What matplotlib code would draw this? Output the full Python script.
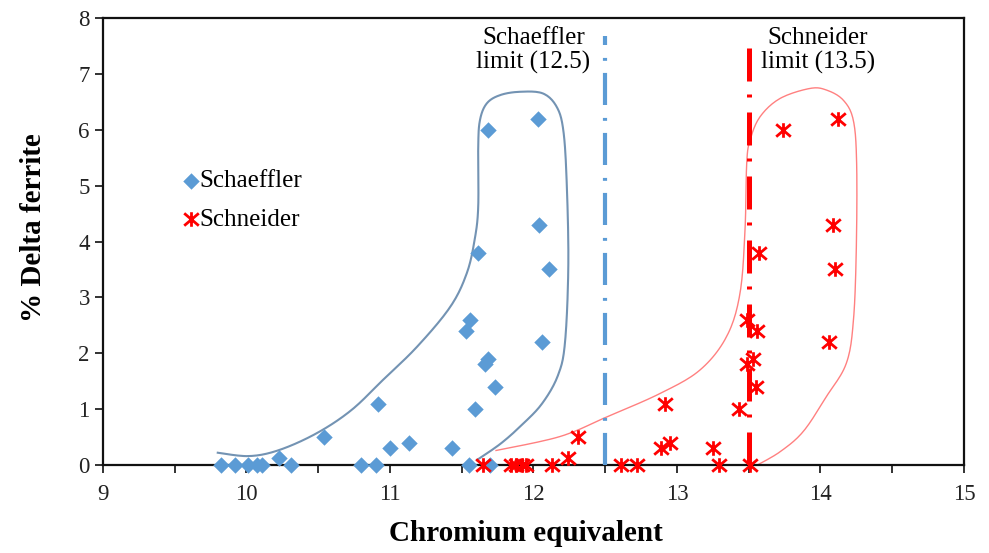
import numpy as np
import matplotlib
matplotlib.use('Agg')
import matplotlib.pyplot as plt
from matplotlib.path import Path
from matplotlib.ticker import MultipleLocator

#data
schaeffler_cr = [9.82, 9.92, 10.01, 10.07, 10.11, 10.31, 10.80, 10.90, 11.55, 11.70,
                 10.23, 10.54, 10.92, 11.00, 11.13, 11.43, 11.59, 11.73, 11.685, 11.66,
                 11.56, 11.53, 11.615, 11.68, 12.03, 12.04, 12.11, 12.06]
schaeffler_ferrite = [0, 0, 0, 0, 0, 0, 0, 0, 0, 0,
                      0.12, 0.5, 1.1, 0.3, 0.4, 0.3, 1.0, 1.4, 1.9, 1.8,
                      2.6, 2.4, 3.8, 6.0, 6.2, 4.3, 3.5, 2.2]
schneider_cr = [11.65, 11.84, 11.88, 11.92, 11.95, 12.13, 12.61, 12.72, 13.29, 13.51,
                12.24, 12.31, 12.92, 12.89, 12.95, 13.25, 13.43, 13.55, 13.53, 13.485,
                13.49, 13.555, 13.57, 13.74, 14.12, 14.09, 14.10, 14.06]
schneider_ferrite = schaeffler_ferrite

limit_labels = ['Schaeffler\nlimit (12.5)', 'Schneider\nlimit (13.5)']
limit_values = [12.5, 13.5]

#hand drawn envelopes round each group
blue_outline_x = [9.80, 10.02, 10.23, 10.49, 10.73, 10.95, 11.19, 11.42, 11.535, 11.59, 11.615,
                  11.615, 11.627, 11.674, 11.767, 11.906, 12.066, 12.162, 12.208, 12.231, 12.243,
                  12.22, 12.17, 12.06, 11.92, 11.77, 11.606]
blue_outline_y = [0.22, 0.16, 0.27, 0.57, 0.98, 1.52, 2.12, 2.83, 3.43, 4.03, 4.62,
                  5.69, 6.17, 6.47, 6.62, 6.68, 6.65, 6.41, 5.99, 5.10, 3.60,
                  2.20, 1.60, 1.10, 0.72, 0.38, 0.09]
red_outline_x = [11.739, 12.185, 12.51, 12.882, 13.16, 13.346, 13.439, 13.474, 13.486, 13.509,
                 13.578, 13.718, 13.927, 14.043, 14.159, 14.229, 14.252, 14.25, 14.23, 14.18,
                 14.04, 13.88, 13.72, 13.56]
red_outline_y = [0.26, 0.51, 0.86, 1.28, 1.70, 2.30, 3.07, 4.20, 5.40, 5.81,
                 6.23, 6.56, 6.74, 6.71, 6.53, 6.17, 5.40, 3.91, 2.60, 1.82,
                 1.22, 0.60, 0.24, 0.0]


def smooth(xs, ys, n=12):
  #catmull-rom through the outline points
  p = np.column_stack([xs, ys])
  p = np.vstack([p[0], p, p[-1]])
  out = []
  for i in range(1, len(p) - 2):
    p0, p1, p2, p3 = p[i-1], p[i], p[i+1], p[i+2]
    for t in np.linspace(0, 1, n, endpoint=False):
      t2, t3 = t*t, t*t*t
      out.append(0.5*((2*p1) + (-p0+p2)*t + (2*p0-5*p1+4*p2-p3)*t2 + (-p0+3*p1-3*p2+p3)*t3))
  out.append(p[-2])
  out = np.array(out)
  return out[:, 0], out[:, 1]


plt.rcParams['font.family'] = ['Liberation Serif', 'DejaVu Serif']

fig = plt.figure(figsize=(9.89, 5.53), dpi=100)
ax = fig.add_axes([0.1041, 0.1591, 0.8706, 0.8083])

blue = '#5B9BD5'
red = '#FF0000'

#envelopes
bx, by = smooth(blue_outline_x, blue_outline_y)
ax.plot(bx, by, color='#7393B3', lw=1.5, zorder=2)
rx, ry = smooth(red_outline_x, red_outline_y)
ax.plot(rx, ry, color='#FF8080', lw=1.0, zorder=2)

#limit lines
ax.plot([limit_values[0]]*2, [0, 7.67], color=blue, lw=3, dashes=(7.7, 2.9, 0.7, 3.1), zorder=3)
ax.plot([limit_values[1]]*2, [0, 7.67], color=red, lw=3.6, dashes=(6.6, 3.0, 0.6, 2.6), zorder=3)
ax.text(12.0, 7.42, limit_labels[0], ha='center', va='center', fontsize=18, linespacing=1.15)
ax.text(13.98, 7.42, limit_labels[1], ha='center', va='center', fontsize=18, linespacing=1.15)

#star marker: X with vertical bar
star = Path([(-1, -0.85), (1, 0.85), (-1, 0.85), (1, -0.85), (0, -1), (0, 1)],
            [Path.MOVETO, Path.LINETO, Path.MOVETO, Path.LINETO, Path.MOVETO, Path.LINETO])

ax.scatter(schaeffler_cr, schaeffler_ferrite, marker='D', s=70, color=blue, lw=0,
           label='Schaeffler', zorder=4, clip_on=False)
ax.scatter(schneider_cr, schneider_ferrite, marker=star, s=110, color=red, lw=2,
           label='Schneider', zorder=5, clip_on=False)

ax.set_xlim(9, 15)
ax.set_ylim(0, 8)
ax.xaxis.set_major_locator(MultipleLocator(1))
ax.xaxis.set_minor_locator(MultipleLocator(0.5))
ax.yaxis.set_major_locator(MultipleLocator(1))
ax.tick_params(axis='both', which='both', direction='out', length=6, width=1.3,
               labelsize=16.5, colors='#222222')
ax.tick_params(axis='x', pad=8)
for s in ax.spines.values():
  s.set_linewidth(1.6)
  s.set_color('#111111')

ax.set_xlabel('Chromium equivalent', fontsize=21, fontweight='bold')
ax.set_ylabel('% Delta ferrite', fontsize=21, fontweight='bold')
ax.xaxis.set_label_coords(0.491, -0.123)
ax.yaxis.set_label_coords(-0.065, 0.53)

ax.legend(loc='upper left', bbox_to_anchor=(0.0645, 0.7), frameon=False, fontsize=18,
          handletextpad=-0.25, borderpad=0.2, labelspacing=0.65, scatterpoints=1,
          handlelength=1.2)

fig.savefig('out.png', dpi=100)
